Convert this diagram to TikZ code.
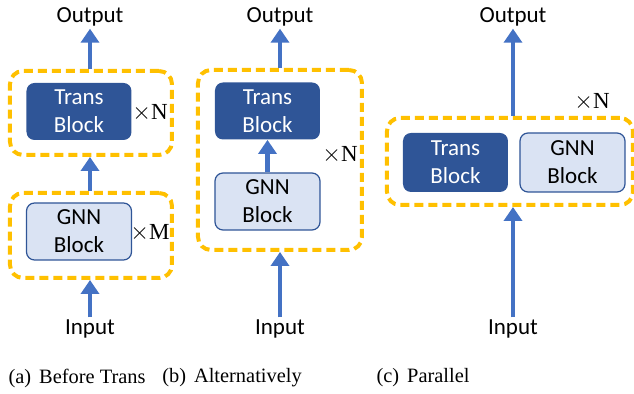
\documentclass[tikz,border=0pt]{standalone}
\usepackage{fontspec}
\setmainfont{Liberation Serif}
\newfontfamily\cali{Carlito}
\usetikzlibrary{arrows.meta,positioning}

\definecolor{transblue}{HTML}{2F5597}
\definecolor{gnnblue}{HTML}{DAE3F3}
\definecolor{arrblue}{HTML}{4472C4}
\definecolor{dashgold}{HTML}{FFC000}

\begin{document}
\begin{tikzpicture}[x=0.5pt,y=-0.5pt,
    arr/.style={draw=arrblue,line width=2.2pt,-{Triangle[width=9pt,length=7pt]}},
    dashbox/.style={draw=dashgold,line width=2pt,dash pattern=on 4.5pt off 2.5pt,rounded corners=6.5pt,inner sep=0pt},
    blk/.style={rounded corners=4pt,inner sep=0pt,align=center,font=\cali\fontsize{11.5}{14}\selectfont,
        minimum width=52.5pt,minimum height=28.5pt},
    trans/.style={blk,fill=transblue,text=white},
    gnn/.style={blk,fill=gnnblue,draw=transblue,line width=0.6pt},
    lbl/.style={font=\cali\fontsize{11.5}{14}\selectfont,inner sep=1pt},
    times/.style={font=\fontsize{11.5}{14}\selectfont,inner sep=0pt},
    subcap/.style={font=\fontsize{10.2}{12}\selectfont}]
    \useasboundingbox (0,0) rectangle (634,394);

    % (a) before trans
    \node[dashbox,minimum width=81pt,minimum height=42pt]   (a1) at (91,113)    {};
    \node[trans]                                         (ta) at (79,111.5)  {Trans\\Block};
    \node[times]                                         (na) at (150,113)   {$\times$N};
    \node[dashbox,minimum width=81pt,minimum height=42.5pt] (a2) at (91,235.5)  {};
    \node[gnn]                                           (ga) at (79,231.5)  {GNN\\Block};
    \node[times]                                         (ma) at (150,233)   {$\times$M};
    \node[lbl]                                           (oa) at (90,17)     {Output};
    \node[lbl]                                           (ia) at (90,329)    {Input};

    \draw[arr] (ia) -- (ia |- a2.south);
    \draw[arr] (ia |- a2.north) -- (ia |- a1.south);
    \draw[arr] (ia |- a1.north) -- (oa);

    % (b) alternatively
    \node[dashbox,minimum width=82pt,minimum height=90pt]   (b)  at (280,160)   {};
    \node[trans]                                         (tb) at (267.5,111) {Trans\\Block};
    \node[gnn]                                           (gb) at (267.5,201.5) {GNN\\Block};
    \node[times]                                         (nb) at (340,155)   {$\times$N};
    \node[lbl]                                           (ob) at (280,17)    {Output};
    \node[lbl]                                           (ib) at (280,329)   {Input};

    \draw[arr] (ib) -- (ib |- b.south);
    \draw[arr] (gb) -- (tb);
    \draw[arr] (ob |- b.north) -- (ob);

    % (c) parallel
    \node[dashbox,minimum width=123pt,minimum height=43.5pt] (c) at (510,161.5) {};
    \node[trans,minimum height=29.5pt]                   (tc) at (455.5,162.5) {Trans\\Block};
    \node[gnn,minimum height=29.5pt]                     (gc) at (572.5,162.5) {GNN\\Block};
    \node[times]                                         (nc) at (592,102)   {$\times$N};
    \node[lbl]                                           (oc) at (513,17)    {Output};
    \node[lbl]                                           (ic) at (513,329)   {Input};

    \draw[arr] (ic) -- (ic |- c.south);
    \draw[arr] (oc |- c.north) -- (oc);

    % captions
    \node[subcap] (capa) at (77,378)  {(a)\hspace{4pt}Before Trans};
    \node[subcap] (capb) at (232,378) {(b)\hspace{4pt}Alternatively};
    \node[subcap] (capc) at (423,378) {(c)\hspace{4pt}Parallel};
\end{tikzpicture}
\end{document}
